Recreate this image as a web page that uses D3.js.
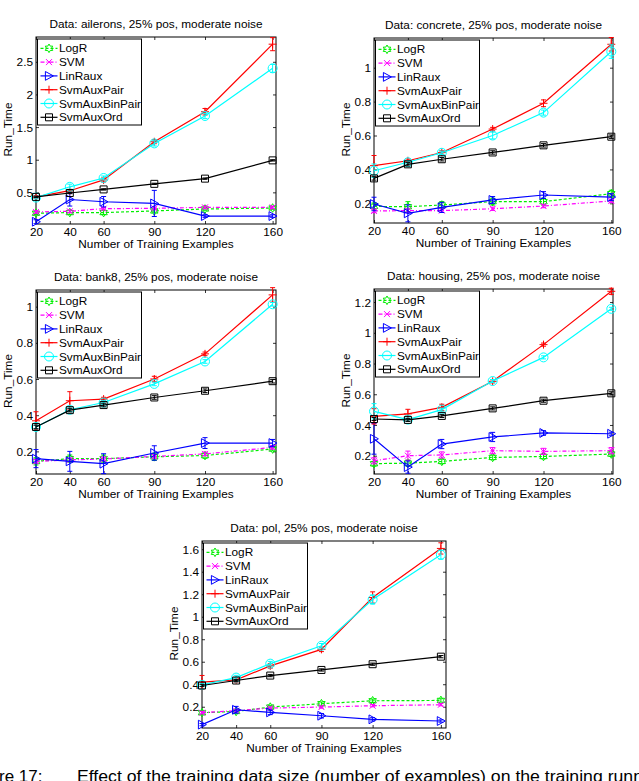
<!DOCTYPE html>
<html><head><meta charset="utf-8">
<script src="https://cdn.jsdelivr.net/npm/d3@7"></script>
<style>
html,body{margin:0;padding:0;background:#fff;}
svg{display:block;}
text{font-family:"Liberation Sans",Arial,sans-serif;}
</style></head>
<body><svg id="c" width="639" height="781"></svg>
<script>
// ---------------- DATA ----------------
const trainSizes = [20, 40, 60, 90, 120, 160];
const datasets = ["ailerons", "concrete", "bank8", "housing", "pol"];
const seriesNames = ["LogR", "SVM", "LinRaux", "SvmAuxPair", "SvmAuxBinPair", "SvmAuxOrd"];

// one row per dataset (ailerons, concrete, bank8, housing, pol)
const LogR = [
  [0.18, 0.19, 0.19, 0.215, 0.245, 0.26],
  [0.182, 0.18, 0.19, 0.21, 0.21, 0.257],
  [0.145, 0.16, 0.16, 0.17, 0.177, 0.213],
  [0.148, 0.152, 0.163, 0.189, 0.195, 0.211],
  [0.147, 0.158, 0.197, 0.227, 0.253, 0.256]
];
const SVM = [
  [0.2, 0.21, 0.25, 0.255, 0.27, 0.27],
  [0.155, 0.157, 0.157, 0.168, 0.184, 0.214],
  [0.145, 0.153, 0.158, 0.172, 0.186, 0.222],
  [0.167, 0.2, 0.205, 0.233, 0.228, 0.233],
  [0.147, 0.165, 0.188, 0.197, 0.209, 0.218]
];
const LinRaux = [
  [0.05, 0.39, 0.356, 0.33, 0.137, 0.137],
  [0.196, 0.141, 0.176, 0.22, 0.249, 0.237],
  [0.16, 0.145, 0.132, 0.191, 0.246, 0.246],
  [0.31, 0.126, 0.276, 0.322, 0.348, 0.343],
  [0.041, 0.173, 0.15, 0.12, 0.088, 0.073]
];
const SvmAuxPair = [
  [0.43, 0.525, 0.69, 1.275, 1.735, 2.77],
  [0.422, 0.451, 0.5, 0.638, 0.79, 1.138],
  [0.369, 0.48, 0.489, 0.6, 0.739, 1.065],
  [0.456, 0.472, 0.515, 0.684, 0.923, 1.27],
  [0.418, 0.439, 0.563, 0.71, 1.171, 1.607]
];
const SvmAuxBinPair = [
  [0.42, 0.585, 0.72, 1.25, 1.67, 2.4],
  [0.392, 0.442, 0.498, 0.6, 0.735, 1.095],
  [0.335, 0.43, 0.47, 0.573, 0.697, 1.013],
  [0.489, 0.435, 0.5, 0.686, 0.84, 1.156],
  [0.395, 0.459, 0.583, 0.742, 1.153, 1.551]
];
const SvmAuxOrd = [
  [0.43, 0.49, 0.545, 0.63, 0.71, 0.99],
  [0.347, 0.43, 0.46, 0.5, 0.542, 0.593],
  [0.335, 0.428, 0.456, 0.498, 0.535, 0.588],
  [0.439, 0.433, 0.459, 0.508, 0.558, 0.606],
  [0.389, 0.433, 0.477, 0.527, 0.578, 0.645]
];

// error bar half-widths
const LogR_err = [
  [0.02, 0.03, 0.03, 0.02, 0.02, 0.02],
  [0.02, 0.03, 0.02, 0.02, 0.02, 0.02],
  [0.02, 0.02, 0.02, 0.02, 0.015, 0.01],
  [0.015, 0.02, 0.015, 0.015, 0.015, 0.015],
  [0.015, 0.015, 0.015, 0.015, 0.015, 0.015]
];
const SVM_err = [
  [0.02, 0.02, 0.02, 0.02, 0.02, 0.02],
  [0.01, 0.01, 0.01, 0.01, 0.01, 0.01],
  [0.01, 0.01, 0.01, 0.01, 0.01, 0.01],
  [0.02, 0.03, 0.02, 0.02, 0.02, 0.02],
  [0.01, 0.01, 0.01, 0.01, 0.01, 0.01]
];
const LinRaux_err = [
  [0.03, 0.1, 0.08, 0.2, 0.02, 0.02],
  [0.04, 0.05, 0.03, 0.02, 0.02, 0.02],
  [0.05, 0.055, 0.055, 0.04, 0.03, 0.02],
  [0.1, 0.04, 0.03, 0.03, 0.015, 0.01],
  [0.01, 0.03, 0.02, 0.02, 0.015, 0.01]
];
const SvmAuxPair_err = [
  [0.02, 0.02, 0.03, 0.03, 0.05, 0.1],
  [0.06, 0.01, 0.01, 0.01, 0.02, 0.04],
  [0.05, 0.05, 0.01, 0.015, 0.01, 0.04],
  [0.05, 0.03, 0.02, 0.01, 0.01, 0.02],
  [0.06, 0.02, 0.02, 0.02, 0.05, 0.05]
];
const SvmAuxBinPair_err = [
  [0.02, 0.04, 0.03, 0.04, 0.04, 0.06],
  [0.04, 0.01, 0.01, 0.02, 0.015, 0.04],
  [0.01, 0.01, 0.01, 0.01, 0.01, 0.01],
  [0.05, 0.01, 0.01, 0.01, 0.01, 0.01],
  [0.01, 0.02, 0.02, 0.02, 0.04, 0.04]
];
const SvmAuxOrd_err = [
  [0.01, 0.01, 0.01, 0.01, 0.01, 0.01],
  [0.01, 0.01, 0.01, 0.01, 0.01, 0.01],
  [0.01, 0.01, 0.01, 0.01, 0.01, 0.01],
  [0.01, 0.01, 0.01, 0.01, 0.01, 0.01],
  [0.01, 0.01, 0.01, 0.01, 0.01, 0.01]
];

// axis limits and tick labels
const xTicks = [20, 40, 60, 90, 120, 160];
const xMax = [162, 161, 162, 161, 163];
const yMin = [0.015, 0.084, 0.075, 0.081, 0.011];
const yMax = [2.88, 1.175, 1.092, 1.285, 1.673];
const yTicks = [
  [0.5, 1, 1.5, 2, 2.5],
  [0.2, 0.4, 0.6, 0.8, 1],
  [0.2, 0.4, 0.6, 0.8, 1],
  [0.2, 0.4, 0.6, 0.8, 1, 1.2],
  [0.2, 0.4, 0.6, 0.8, 1, 1.2, 1.4, 1.6]
];
const titleText = d => `Data: ${d}, 25% pos, moderate noise`;
const xLabel = "Number of Training Examples";
const yLabel = "Run_Time";

// ---------------- STYLE / LAYOUT ----------------
const seriesValues = [LogR, SVM, LinRaux, SvmAuxPair, SvmAuxBinPair, SvmAuxOrd];
const seriesErrors = [LogR_err, SVM_err, LinRaux_err, SvmAuxPair_err, SvmAuxBinPair_err, SvmAuxOrd_err];
const colors = ["#00ee00", "#ff00ff", "#0000ff", "#ff0000", "#00ffff", "#000000"];
const dashes = ["3,2", "4,2,1,2", null, null, null, null];
function starPath(ro, ri) {
  let p = "";
  for (let i = 0; i < 12; i++) {
    const r = i % 2 ? ri : ro;
    const a = -Math.PI / 2 + i * Math.PI / 6;
    p += (i ? "L" : "M") + (r * Math.cos(a)).toFixed(2) + "," + (r * Math.sin(a)).toFixed(2);
  }
  return p + "Z";
}
const markers = [
  starPath(4.3, 2.5),
  "M-3,-3L3,3M-3,3L3,-3",
  "M-3.6,-4.4L4.4,0L-3.6,4.4Z",
  "M-4,0H4M0,-4V4",
  "M4.5,0A4.5,4.5 0 1,1 -4.5,0A4.5,4.5 0 1,1 4.5,0Z",
  "M-3.5,-3.5H3.5V3.5H-3.5Z"
];
const frames = [
  {l: 36, t: 37, r: 276, b: 224},
  {l: 374, t: 38, r: 613, b: 223},
  {l: 36, t: 290, r: 276, b: 474},
  {l: 374, t: 289, r: 613, b: 474},
  {l: 202, t: 541, r: 446, b: 728}
];
const FS = 11.8;
const svg = d3.select("#c");

datasets.forEach((ds, di) => {
  const f = frames[di];
  const x = d3.scaleLinear().domain([20, xMax[di]]).range([f.l, f.r]);
  const y = d3.scaleLinear().domain([yMin[di], yMax[di]]).range([f.b, f.t]);
  const g = svg.append("g");
  const tl = 3;

  // axes (ticks inward on all sides)
  const axB = d3.axisBottom(x).tickValues(xTicks).tickSize(-tl).tickPadding(0).tickFormat(d3.format("d"));
  const axT = d3.axisTop(x).tickValues(xTicks).tickSize(-tl).tickFormat("");
  const axL = d3.axisLeft(y).tickValues(yTicks[di]).tickSize(-tl).tickPadding(0).tickFormat(d => String(d));
  const axR = d3.axisRight(y).tickValues(yTicks[di]).tickSize(-tl).tickFormat("");
  const gB = g.append("g").attr("transform", `translate(0,${f.b})`).call(axB);
  const gT = g.append("g").attr("transform", `translate(0,${f.t})`).call(axT);
  const gL = g.append("g").attr("transform", `translate(${f.l},0)`).call(axL);
  const gR = g.append("g").attr("transform", `translate(${f.r},0)`).call(axR);
  [gB, gT, gL, gR].forEach(a => {
    a.select(".domain").remove();
    a.selectAll(".tick line").attr("stroke", "#000").attr("stroke-width", 0.8);
    a.selectAll("text").attr("font-size", FS).attr("fill", "#000")
      .attr("font-family", '"Liberation Sans",Arial,sans-serif');
  });
  gB.selectAll("text").attr("dy", null).attr("y", 11.5);
  gL.selectAll("text").attr("x", -3).attr("dy", "0.35em");

  // box
  g.append("rect").attr("x", f.l).attr("y", f.t).attr("width", f.r - f.l).attr("height", f.b - f.t)
    .attr("fill", "none").attr("stroke", "#000").attr("stroke-width", 1);

  // title & labels
  g.append("text").attr("x", (f.l + f.r) / 2).attr("y", f.t - 9.5).attr("text-anchor", "middle")
    .attr("font-size", FS).text(titleText(ds));
  g.append("text").attr("x", (f.l + f.r) / 2).attr("y", f.b + 24).attr("text-anchor", "middle")
    .attr("font-size", FS).text(xLabel);
  g.append("text").attr("transform", `translate(${f.l - 24.5},${(f.t + f.b) / 2 - 1}) rotate(-90)`)
    .attr("text-anchor", "middle").attr("font-size", FS).text(yLabel);

  // series
  seriesNames.forEach((s, si) => {
    const vals = seriesValues[si][di];
    const errs = seriesErrors[si][di];
    const pts = trainSizes.map((t, i) => ({t, v: vals[i], e: errs[i]}));
    const sg = g.append("g");
    // error bars
    pts.forEach(p => {
      const x0 = x(p.t), y1 = y(p.v - p.e), y2 = y(p.v + p.e);
      sg.append("path").attr("d", `M${x0},${y1}V${y2}M${x0 - 2.5},${y1}H${x0 + 2.5}M${x0 - 2.5},${y2}H${x0 + 2.5}`)
        .attr("stroke", colors[si]).attr("stroke-width", 1).attr("fill", "none");
    });
    sg.append("path").datum(pts)
      .attr("d", d3.line().x(p => x(p.t)).y(p => y(p.v)))
      .attr("fill", "none").attr("stroke", colors[si]).attr("stroke-width", 1.2)
      .attr("stroke-dasharray", dashes[si]);
    sg.selectAll(".m").data(pts).enter().append("path")
      .attr("d", markers[si])
      .attr("transform", p => `translate(${x(p.t)},${y(p.v)})`)
      .attr("fill", "none").attr("stroke", colors[si]).attr("stroke-width", 1);
  });

  // legend
  const lx = f.l + 1.5, ly = f.t + 2;
  const lg = g.append("g");
  lg.append("rect").attr("x", lx).attr("y", ly).attr("width", 104).attr("height", 86)
    .attr("fill", "#fff").attr("stroke", "#000").attr("stroke-width", 1);
  seriesNames.forEach((s, si) => {
    const ry = ly + 9.3 + si * 13.8;
    lg.append("line").attr("x1", lx + 3).attr("x2", lx + 20).attr("y1", ry).attr("y2", ry)
      .attr("stroke", colors[si]).attr("stroke-width", 1.2).attr("stroke-dasharray", dashes[si]);
    lg.append("path").attr("d", markers[si]).attr("transform", `translate(${lx + 11.5},${ry})`)
      .attr("fill", "none").attr("stroke", colors[si]).attr("stroke-width", 1);
    lg.append("text").attr("x", lx + 21.5).attr("y", ry).attr("dy", "0.35em")
      .attr("font-size", FS).text(s);
  });
});

// caption fragment at the bottom (cut off in the reference)
svg.append("text").attr("x", -1).attr("y", 782).attr("font-family", '"Liberation Serif","DejaVu Serif",serif')
  .attr("font-size", 17).text("re 17:");
svg.append("text").attr("x", 77).attr("y", 782).attr("font-family", '"Liberation Serif","DejaVu Serif",serif')
  .attr("font-size", 17).attr("textLength", 566).attr("lengthAdjust", "spacingAndGlyphs")
  .text("Effect of the training data size (number of examples) on the training runn");
</script>
</body></html>
